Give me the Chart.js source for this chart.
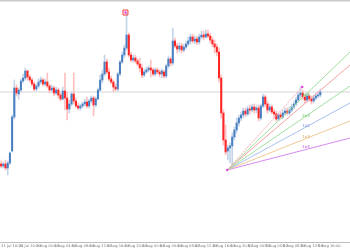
<!DOCTYPE html>
<html>
<head>
<meta charset="utf-8">
<script src="https://cdn.jsdelivr.net/npm/chart.js@4.4.0/dist/chart.umd.min.js"></script>
<style>
  html, body { margin: 0; padding: 0; background: #fff; }
  canvas { display: block; }
</style>
</head>
<body>
<canvas id="chart" width="350" height="250"></canvas>
<script>
/* ------------------
  candle data (30 min bars)
-------------------*/
var tickLabels = ["31 Jul 16:00", "31 Jul 20:00", "3 Aug 00:00", "3 Aug 04:00", "3 Aug 08:00", "3 Aug 12:00",
  "3 Aug 16:00", "3 Aug 20:00", "4 Aug 00:00", "4 Aug 04:00", "4 Aug 08:00", "4 Aug 12:00", "4 Aug 16:00",
  "4 Aug 20:00", "5 Aug 00:00", "5 Aug 04:00", "5 Aug 08:00", "5 Aug 12:00", "5 Aug 16:00"];

var opens = [1.1836,1.1834,1.1836,1.1832,1.1837,1.1849,1.1883,1.1912,1.1906,1.1910,
  1.1919,1.1922,1.1929,1.1923,1.1920,1.1916,1.1911,1.1914,1.1918,1.1920,
  1.1916,1.1918,1.1914,1.1910,1.1912,1.1907,1.1910,1.1905,1.1901,1.1909,
  1.1902,1.1891,1.1896,1.1906,1.1899,1.1894,1.1892,1.1894,1.1896,1.1898,
  1.1894,1.1899,1.1902,1.1895,1.1901,1.1910,1.1920,1.1926,1.1938,1.1928,
  1.1921,1.1918,1.1913,1.1911,1.1926,1.1938,1.1945,1.1952,1.1965,1.1945,
  1.1940,1.1942,1.1939,1.1936,1.1932,1.1925,1.1928,1.1930,1.1932,1.1930,
  1.1926,1.1930,1.1928,1.1926,1.1928,1.1924,1.1934,1.1941,1.1937,1.1959,
  1.1954,1.1951,1.1954,1.1950,1.1953,1.1956,1.1959,1.1963,1.1959,1.1961,
  1.1958,1.1963,1.1965,1.1963,1.1966,1.1964,1.1960,1.1956,1.1953,1.1948,
  1.1922,1.1887,1.1860,1.1849,1.1852,1.1854,1.1863,1.1870,1.1877,1.1882,
  1.1885,1.1889,1.1886,1.1891,1.1890,1.1893,1.1890,1.1892,1.1882,1.1894,
  1.1903,1.1896,1.1890,1.1893,1.1888,1.1886,1.1881,1.1885,1.1883,1.1887,
  1.1889,1.1887,1.1890,1.1893,1.1896,1.1900,1.1905,1.1907,1.1903,1.1900,
  1.1904,1.1901,1.1899,1.1902,1.1904,1.1905];

var highs = [1.1839,1.1838,1.1840,1.1839,1.1848,1.1885,1.1920,1.1915,1.1912,1.1921,
  1.1926,1.1932,1.1930,1.1925,1.1922,1.1918,1.1916,1.1921,1.1923,1.1922,
  1.1921,1.1927,1.1916,1.1915,1.1914,1.1913,1.1912,1.1907,1.1913,1.1927,
  1.1908,1.1900,1.1908,1.1927,1.1902,1.1897,1.1896,1.1898,1.1901,1.1903,
  1.1901,1.1904,1.1904,1.1903,1.1912,1.1925,1.1930,1.1945,1.1941,1.1932,
  1.1924,1.1920,1.1916,1.1928,1.1940,1.1948,1.1955,1.1987,1.1967,1.1948,
  1.1945,1.1945,1.1941,1.1942,1.1936,1.1931,1.1933,1.1934,1.1940,1.1932,
  1.1932,1.1932,1.1930,1.1931,1.1930,1.1936,1.1944,1.1943,1.1972,1.1962,
  1.1957,1.1957,1.1957,1.1956,1.1959,1.1963,1.1966,1.1966,1.1964,1.1964,
  1.1966,1.1969,1.1969,1.1970,1.1970,1.1967,1.1963,1.1960,1.1956,1.1952,
  1.1925,1.1890,1.1875,1.1855,1.1857,1.1867,1.1873,1.1882,1.1885,1.1888,
  1.1892,1.1892,1.1894,1.1895,1.1896,1.1896,1.1895,1.1895,1.1896,1.1906,
  1.1905,1.1899,1.1896,1.1895,1.1891,1.1889,1.1887,1.1888,1.1890,1.1892,
  1.1892,1.1893,1.1896,1.1899,1.1903,1.1908,1.1913,1.1910,1.1906,1.1907,
  1.1906,1.1904,1.1905,1.1907,1.1908,1.1911];

var lows = [1.1832,1.1832,1.1830,1.1825,1.1835,1.1848,1.1881,1.1904,1.1901,1.1908,
  1.1917,1.1920,1.1920,1.1918,1.1914,1.1909,1.1909,1.1912,1.1916,1.1914,
  1.1914,1.1912,1.1907,1.1908,1.1904,1.1905,1.1902,1.1899,1.1900,1.1890,
  1.1880,1.1887,1.1894,1.1896,1.1892,1.1890,1.1890,1.1892,1.1894,1.1892,
  1.1892,1.1897,1.1884,1.1893,1.1900,1.1908,1.1917,1.1924,1.1926,1.1919,
  1.1916,1.1908,1.1909,1.1909,1.1924,1.1936,1.1942,1.1950,1.1943,1.1938,
  1.1938,1.1937,1.1934,1.1928,1.1922,1.1923,1.1927,1.1928,1.1923,1.1924,
  1.1924,1.1926,1.1923,1.1922,1.1922,1.1922,1.1932,1.1934,1.1935,1.1952,
  1.1947,1.1948,1.1947,1.1948,1.1951,1.1954,1.1956,1.1957,1.1956,1.1955,
  1.1956,1.1961,1.1960,1.1962,1.1962,1.1957,1.1953,1.1947,1.1944,1.1918,
  1.1882,1.1855,1.1845,1.1840,1.1837,1.1835,1.1860,1.1867,1.1874,1.1879,
  1.1882,1.1883,1.1884,1.1886,1.1888,1.1887,1.1887,1.1879,1.1880,1.1892,
  1.1893,1.1887,1.1888,1.1886,1.1882,1.1879,1.1879,1.1881,1.1881,1.1885,
  1.1885,1.1885,1.1888,1.1891,1.1894,1.1898,1.1902,1.1900,1.1897,1.1898,
  1.1899,1.1896,1.1897,1.1900,1.1902,1.1903];

var closes = [1.1834,1.1836,1.1832,1.1837,1.1847,1.1883,1.1912,1.1907,1.1910,1.1919,
  1.1922,1.1929,1.1923,1.1920,1.1916,1.1911,1.1914,1.1918,1.1920,1.1916,
  1.1918,1.1914,1.1910,1.1912,1.1907,1.1910,1.1905,1.1901,1.1909,1.1902,
  1.1891,1.1896,1.1906,1.1899,1.1894,1.1892,1.1894,1.1896,1.1898,1.1894,
  1.1899,1.1902,1.1895,1.1901,1.1910,1.1920,1.1926,1.1938,1.1928,1.1921,
  1.1918,1.1913,1.1911,1.1926,1.1938,1.1945,1.1952,1.1965,1.1945,1.1940,
  1.1942,1.1939,1.1936,1.1932,1.1925,1.1928,1.1930,1.1932,1.1930,1.1926,
  1.1930,1.1928,1.1926,1.1929,1.1924,1.1934,1.1941,1.1937,1.1959,1.1954,
  1.1951,1.1954,1.1950,1.1953,1.1956,1.1959,1.1963,1.1959,1.1961,1.1958,
  1.1963,1.1965,1.1963,1.1966,1.1964,1.1960,1.1956,1.1953,1.1948,1.1922,
  1.1887,1.1860,1.1848,1.1852,1.1854,1.1863,1.1870,1.1877,1.1882,1.1885,
  1.1889,1.1886,1.1891,1.1890,1.1893,1.1890,1.1892,1.1882,1.1894,1.1903,
  1.1896,1.1890,1.1893,1.1888,1.1886,1.1881,1.1885,1.1883,1.1887,1.1889,
  1.1887,1.1890,1.1893,1.1896,1.1900,1.1905,1.1907,1.1903,1.1900,1.1904,
  1.1901,1.1899,1.1902,1.1904,1.1905,1.1908];

// horizontal price level
var levelPrice = 1.1908;

// gann fan: origin (bar index, price), end prices at the right edge
var fanOrigin = [102.7, 1.1830];
var fanAnchor = [136.8, 1.1913];
var fanEnds = [1.1948, 1.1935, 1.1914, 1.1897, 1.1879, 1.1862];
var fanLabels = ["1x1", "", "2x3", "1x2", "1x3", "1x4"];

// marked high
var peakMark = [56.5, 1.19875];

/* ------------------
  build chart
-------------------*/
var nBars = 159; // bar slots incl. empty space on the right
var leftEdge = -0.5;
var rightEdge = nBars - 0.5;

var fanColors = ['#9fe09f', '#f4a0a0', '#9fe09f', '#a9bff0', '#f0c995', '#d68af0'];
var fanTextColors = ['#5cc25c', '#e06a6a', '#5cc25c', '#6f8fd8', '#d9a25a', '#b45cd6'];

var up = closes.map(function (c, i) { return c >= opens[i]; });

var datasets = [
  {
    type: 'bar',
    data: lows.map(function (l, i) { return { x: i, y: [l, highs[i]] }; }),
    backgroundColor: up.map(function (u) { return u ? '#c4d5ea' : '#ffc0c0'; }),
    barThickness: 1,
    grouped: false,
    order: 4
  },
  {
    type: 'bar',
    data: opens.map(function (o, i) { return { x: i, y: [o, closes[i]] }; }),
    backgroundColor: up.map(function (u) { return u ? '#4a80c2' : '#ff2626'; }),
    barThickness: 1.4,
    minBarLength: 1,
    grouped: false,
    order: 3
  },
  {
    type: 'line',
    data: [{ x: leftEdge, y: levelPrice }, { x: rightEdge, y: levelPrice }],
    borderColor: '#e4e4e4',
    borderWidth: 1.5,
    pointRadius: 0,
    order: 10
  },
  {
    type: 'line',
    data: [{ x: fanOrigin[0], y: fanOrigin[1] }, { x: fanAnchor[0], y: fanAnchor[1] }],
    borderColor: '#f7a6b8',
    borderWidth: 1,
    borderDash: [2, 1],
    pointRadius: 0,
    order: 2
  }
];

fanEnds.forEach(function (p, k) {
  datasets.push({
    type: 'line',
    data: [{ x: fanOrigin[0], y: fanOrigin[1] }, { x: rightEdge, y: p }],
    borderColor: fanColors[k],
    borderWidth: 1,
    pointRadius: 0,
    order: 2
  });
});

// marker square at the high + small dots
datasets.push({
  type: 'line',
  showLine: false,
  data: [{ x: peakMark[0], y: peakMark[1] }],
  pointStyle: 'rect',
  pointRadius: 3.5,
  pointBorderColor: '#ff3b3b',
  pointBorderWidth: 1,
  pointBackgroundColor: 'rgba(255,255,255,0)',
  order: 1
});
datasets.push({
  type: 'line',
  showLine: false,
  data: [{ x: peakMark[0], y: peakMark[1] }, { x: fanAnchor[0], y: fanAnchor[1] }, { x: fanOrigin[0], y: fanOrigin[1] }],
  pointRadius: 1.2,
  pointBorderWidth: 0,
  pointBackgroundColor: '#e040e0',
  order: 1
});

var chartDecor = {
  id: 'chartDecor',
  beforeDraw: function (chart) {
    var ctx = chart.ctx;
    ctx.save();
    ctx.fillStyle = '#c9c9c9';
    ctx.fillRect(0, 0, chart.width, 1.5);
    ctx.restore();
  },
  afterDatasetsDraw: function (chart) {
    var ctx = chart.ctx, xs = chart.scales.x, ys = chart.scales.y;
    var at = fanAnchor[0];
    ctx.save();
    ctx.font = '4px "DejaVu Sans"';
    ctx.textBaseline = 'bottom';
    fanEnds.forEach(function (p, k) {
      if (!fanLabels[k]) return;
      var price = fanOrigin[1] + (p - fanOrigin[1]) * (at - fanOrigin[0]) / (rightEdge - fanOrigin[0]);
      ctx.fillStyle = fanTextColors[k];
      ctx.fillText(fanLabels[k], xs.getPixelForValue(at), ys.getPixelForValue(price) - 1);
    });
    ctx.restore();
  }
};

new Chart(document.getElementById('chart'), {
  type: 'bar',
  data: { datasets: datasets },
  options: {
    responsive: false,
    animation: false,
    devicePixelRatio: 1,
    layout: { autoPadding: false, padding: { top: 2, left: 0, right: 0, bottom: 0 } },
    plugins: {
      legend: { display: false },
      tooltip: { enabled: false }
    },
    scales: {
      x: {
        type: 'linear',
        offset: false,
        min: leftEdge,
        max: rightEdge,
        grid: { display: false, drawTicks: false },
        border: { display: true, color: '#bdbdbd', width: 1 },
        afterBuildTicks: function (scale) {
          scale.ticks = tickLabels.map(function (t, k) { return { value: k * 8 }; });
        },
        ticks: {
          autoSkip: false,
          maxRotation: 0,
          minRotation: 0,
          align: 'start',
          padding: 2,
          color: '#777',
          font: { size: 3.7, family: 'DejaVu Sans' },
          callback: function (value) { return tickLabels[value / 8] || ''; }
        },
        afterFit: function (scale) {
          scale.height = 8;
          scale.paddingLeft = 0;
          scale.paddingRight = 0;
        }
      },
      y: {
        display: false,
        min: 1.1758,
        max: 1.1998
      }
    }
  },
  plugins: [chartDecor]
});
</script>
</body>
</html>
